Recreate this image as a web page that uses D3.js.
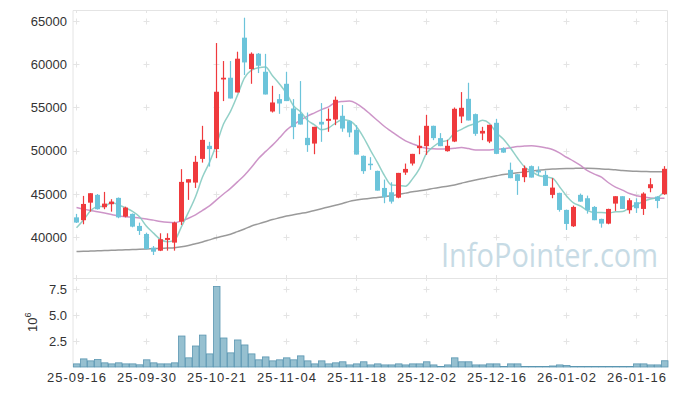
<!DOCTYPE html>
<html>
<head>
<meta charset="utf-8">
<script src="https://cdn.jsdelivr.net/npm/d3@7"></script>
<style>
  html, body { margin: 0; padding: 0; background: #fff; }
  svg { display: block; font-family: "Liberation Sans", Arial, sans-serif; }
</style>
</head>
<body>
<svg width="677" height="396"></svg>
<script>
// trading days
const dates = [
  '25-09-16','25-09-17','25-09-18','25-09-19','25-09-22','25-09-23','25-09-24','25-09-25','25-09-26','25-09-29',
  '25-09-30','25-10-01','25-10-02','25-10-10','25-10-13','25-10-14','25-10-15','25-10-16','25-10-17','25-10-20',
  '25-10-21','25-10-22','25-10-23','25-10-24','25-10-27','25-10-28','25-10-29','25-10-30','25-10-31','25-11-03',
  '25-11-04','25-11-05','25-11-06','25-11-07','25-11-10','25-11-11','25-11-12','25-11-13','25-11-14','25-11-17',
  '25-11-18','25-11-19','25-11-20','25-11-21','25-11-24','25-11-25','25-11-26','25-11-27','25-11-28','25-12-01',
  '25-12-02','25-12-03','25-12-04','25-12-05','25-12-08','25-12-09','25-12-10','25-12-11','25-12-12','25-12-15',
  '25-12-16','25-12-17','25-12-18','25-12-19','25-12-22','25-12-23','25-12-24','25-12-26','25-12-29','25-12-30',
  '26-01-02','26-01-05','26-01-06','26-01-07','26-01-08','26-01-09','26-01-12','26-01-13','26-01-14','26-01-15',
  '26-01-16','26-01-19','26-01-20','26-01-21','26-01-22'
];

const open = [
  42300,41970,44000,44900,43470,43820,44550,42390,42700,41310,
  40380,38800,38450,39690,39380,41800,46320,46320,49060,50570,
  50190,58240,58440,56740,63070,59440,61215,59130,54535,55970,
  57740,54885,54270,51490,50830,53345,53460,53610,54040,53425,
  52420,49410,48500,47670,45700,45200,44580,47480,48520,50300,
  50530,52880,51460,49950,51065,53960,56005,54235,51990,51065,
  53230,50300,47790,47290,46944,48220,47700,47210,44900,45130,
  43160,41270,44900,44510,43505,42120,41575,43890,44745,43125,
  44050,43275,45670,44700,44980
];
const high = [
  42700,44780,45100,45000,45240,44400,44600,43540,42750,41690,
  40530,38990,40460,40460,41810,47870,46710,49410,52880,51030,
  62450,60370,60370,61450,65380,61370,61300,61200,57510,56550,
  59130,55970,58055,54420,52765,55510,54885,56270,55280,53500,
  52960,49450,49260,47700,46670,46360,47440,48520,49640,51760,
  54155,52900,52040,51260,55000,56780,57860,54300,52765,53000,
  53690,50400,48630,47300,48290,48300,48200,47710,46830,45150,
  43200,43660,45050,44815,43600,42150,43300,44745,44745,44510,
  44510,45200,46830,44750,48220
];
const low = [
  41650,41500,42960,43200,43240,42960,42200,42300,41150,40270,
  38600,37950,38400,38450,38450,41420,44320,45700,48630,48170,
  49140,55740,56040,56740,58750,57740,58980,56500,54420,54270,
  55740,51340,53030,49870,49600,51030,52190,52960,52190,51570,
  49560,47330,47790,45390,43935,43890,44510,47210,48290,49600,
  49525,51225,50530,49900,51000,53195,53500,51725,51225,50880,
  49640,49750,46830,44900,46366,46900,47100,45940,44510,42960,
  40845,41190,44100,42730,41970,41110,41500,43045,43275,42730,
  42810,42580,45200,43355,44900
];
const close = [
  41700,43850,45090,43240,43890,44120,42300,43430,41230,40730,
  38650,38330,39770,39920,41690,46400,46710,48720,51260,50190,
  56820,58440,56040,60640,60210,61215,59825,56505,55580,55460,
  55740,52730,53030,50650,52765,53030,53690,55890,52570,52110,
  49560,47640,48400,45390,44630,44120,47440,47900,49640,50570,
  52880,51460,50530,50570,54850,54965,53500,51955,52300,53000,
  49640,49790,46830,46515,47986,46900,47500,45940,45740,43160,
  41540,43505,44120,43125,41970,41575,43275,44745,43275,44280,
  43355,45050,46130,44200,47910
];
// closes of the four sessions before the first one (for the 5-day average)
const prevCloses = [39400, 39700, 40900, 43800];

// 20-day and 60-day averages
const ma20 = [
  43430,43250,43100,42960,42800,42630,42470,42380,42300,42230,
  42120,41980,41830,41730,41690,41900,42200,42580,43100,43620,
  44320,45000,45650,46400,47180,48100,49100,49900,50650,51500,
  52380,53000,53540,54000,54380,54750,55080,55580,55700,55740,
  55450,54890,54200,53500,52800,52220,51650,51150,50800,50490,
  50300,50220,50200,50220,50300,50370,50250,50100,50100,50100,
  50150,50220,50350,50490,50540,50570,50500,50350,50150,49750,
  49250,48800,48300,47700,47300,46950,46300,45800,45450,45050,
  44800,44650,44550,44510,44500
];
const ma60 = [
  38350,38380,38400,38430,38460,38490,38520,38550,38580,38610,
  38640,38680,38720,38760,38800,38900,39050,39250,39450,39700,
  39950,40150,40350,40650,40950,41300,41550,41800,42050,42250,
  42450,42600,42750,42900,43100,43300,43500,43700,43900,44150,
  44300,44420,44520,44600,44700,44800,44950,45100,45250,45370,
  45500,45650,45780,45900,46050,46250,46450,46620,46780,46950,
  47100,47250,47350,47450,47550,47650,47750,47820,47880,47920,
  47950,47960,47970,47970,47950,47900,47850,47800,47720,47660,
  47620,47600,47580,47570,47560
];

// volume, millions of shares
const volume = [
  0.30,0.78,0.59,0.72,0.40,0.30,0.40,0.30,0.30,0.21,
  0.69,0.40,0.30,0.30,0.40,2.98,0.88,2.02,3.07,1.26,
  7.75,2.79,1.36,2.60,2.12,1.26,0.69,0.97,0.59,0.69,
  0.88,0.69,1.07,0.59,0.30,0.59,0.30,0.40,0.50,0.20,
  0.30,0.50,0.20,0.30,0.20,0.20,0.30,0.20,0.30,0.30,
  0.50,0.20,0.05,0.20,0.88,0.50,0.50,0.20,0.20,0.30,
  0.30,0.05,0.30,0.30,0.05,0.05,0.05,0.05,0.10,0.20,
  0.15,0.05,0.05,0.05,0.05,0.05,0.05,0.05,0.05,0.05,
  0.30,0.30,0.20,0.20,0.60
];

const priceTicks = [40000, 45000, 50000, 55000, 60000, 65000];
const volumeTicks = [2.5, 5.0, 7.5];
const tickEvery = 10;

const svg = d3.select('svg');

const left = 73, right = 668;
const priceTop = 10, priceBottom = 278;
const volTop = 278, volBottom = 367;

const upColor = '#ef3a3d';
const downColor = '#6cc4da';
const gridColor = '#e4e4e4';

const x = d3.scaleBand()
  .domain(d3.range(dates.length))
  .range([left, right]);
const cx = i => x(i) + x.bandwidth() / 2;

const y = d3.scaleLinear()
  .domain([35290, 66270])
  .range([priceBottom, priceTop]);

const yv = d3.scaleLinear()
  .domain([0, 8.56])
  .range([volBottom, volTop]);

// 5-day moving average from closes
const allCloses = prevCloses.concat(close);
const ma5 = close.map((c, i) => d3.mean(allCloses.slice(i, i + 5)));

const xTickIdx = d3.range(0, dates.length, tickEvery);

// frame
svg.append('path')
  .attr('d', `M${left},${volBottom}V${priceTop + 0.5}H${right - 0.5}V${volBottom}`)
  .attr('fill', 'none')
  .attr('stroke', gridColor);
svg.append('line')
  .attr('x1', left).attr('x2', right)
  .attr('y1', priceBottom + 0.5).attr('y2', priceBottom + 0.5)
  .attr('stroke', gridColor);

// grid crosses
const cross = (px, py) => `M${px - 3},${py}H${px + 3}M${px},${py - 3}V${py + 3}`;
let crossPath = '';
xTickIdx.forEach(i => {
  priceTicks.forEach(v => { crossPath += cross(cx(i), Math.round(y(v)) + 0.5); });
  volumeTicks.forEach(v => { crossPath += cross(cx(i), Math.round(yv(v)) + 0.5); });
  crossPath += `M${cx(i)},${priceTop}V${priceTop + 3}M${cx(i)},${priceBottom}V${priceBottom - 3}`;
  crossPath += `M${cx(i)},${volTop}V${volTop + 3}`;
});
priceTicks.forEach(v => {
  const py = Math.round(y(v)) + 0.5;
  crossPath += `M${left},${py}H${left + 3}M${right - 3},${py}H${right}`;
});
volumeTicks.forEach(v => {
  const py = Math.round(yv(v)) + 0.5;
  crossPath += `M${left},${py}H${left + 3}M${right - 3},${py}H${right}`;
});
svg.append('path')
  .attr('d', crossPath)
  .attr('fill', 'none')
  .attr('stroke', gridColor);

// watermark
svg.append('text')
  .attr('x', 441)
  .attr('y', 267)
  .attr('font-family', '"Open Sans", "Noto Sans", sans-serif')
  .attr('font-size', 33)
  .attr('textLength', 217)
  .attr('lengthAdjust', 'spacingAndGlyphs')
  .attr('fill', '#c7dbe5')
  .text('InfoPointer.com');

// moving averages
const line = arr => d3.line()
  .x((d, i) => cx(i))
  .y(d => y(d))
  .curve(d3.curveMonotoneX)(arr);

svg.append('path')
  .attr('d', line(ma60))
  .attr('fill', 'none')
  .attr('stroke', '#8f8f8f')
  .attr('stroke-width', 1.5)
  .attr('opacity', 0.9);
svg.append('path')
  .attr('d', line(ma20))
  .attr('fill', 'none')
  .attr('stroke', '#c88ac2')
  .attr('stroke-width', 1.5)
  .attr('opacity', 0.9);
svg.append('path')
  .attr('d', line(ma5))
  .attr('fill', 'none')
  .attr('stroke', '#86cbc1')
  .attr('stroke-width', 1.5)
  .attr('opacity', 0.9);

// candles
const candles = svg.append('g')
  .selectAll('g')
  .data(dates.map((d, i) => i))
  .join('g')
  .attr('fill', i => close[i] >= open[i] ? upColor : downColor)
  .attr('stroke', i => close[i] >= open[i] ? upColor : downColor);

candles.append('line')
  .attr('x1', i => cx(i)).attr('x2', i => cx(i))
  .attr('y1', i => y(high[i])).attr('y2', i => y(low[i]))
  .attr('stroke-width', 1.2);

const bodyW = 5;
candles.append('rect')
  .attr('x', i => cx(i) - bodyW / 2)
  .attr('width', bodyW)
  .attr('y', i => y(Math.max(open[i], close[i])))
  .attr('height', i => Math.max(1.5, Math.abs(y(open[i]) - y(close[i]))))
  .attr('stroke', 'none');

// volume bars
svg.append('g')
  .selectAll('rect')
  .data(volume)
  .join('rect')
  .attr('x', (d, i) => x(i) + 0.5)
  .attr('width', x.bandwidth() - 0.5)
  .attr('y', d => yv(d))
  .attr('height', d => volBottom - yv(d))
  .attr('fill', '#96c0d0')
  .attr('stroke', '#5a96b1')
  .attr('stroke-width', 0.8);

// price axis labels
svg.append('g')
  .selectAll('text')
  .data(priceTicks)
  .join('text')
  .attr('x', 67)
  .attr('y', d => y(d))
  .attr('dy', '0.35em')
  .attr('text-anchor', 'end')
  .attr('font-size', 13)
  .attr('fill', '#333')
  .text(d => d);

// volume axis labels
svg.append('g')
  .selectAll('text')
  .data(volumeTicks)
  .join('text')
  .attr('x', 67)
  .attr('y', d => yv(d))
  .attr('dy', '0.35em')
  .attr('text-anchor', 'end')
  .attr('font-size', 13)
  .attr('fill', '#333')
  .text(d => d.toFixed(1));

const expLabel = svg.append('text')
  .attr('transform', 'translate(37,332) rotate(-90)')
  .attr('font-size', 13)
  .attr('fill', '#333');
expLabel.append('tspan').text('10');
expLabel.append('tspan')
  .attr('font-size', 9)
  .attr('dy', -6)
  .text('6');

// date labels
svg.append('g')
  .selectAll('text')
  .data(xTickIdx)
  .join('text')
  .attr('x', i => cx(i))
  .attr('y', 382)
  .attr('text-anchor', 'middle')
  .attr('font-size', 13)
  .attr('fill', '#333')
  .attr('textLength', 59)
  .attr('lengthAdjust', 'spacing')
  .text(i => dates[i]);
</script>
</body>
</html>
